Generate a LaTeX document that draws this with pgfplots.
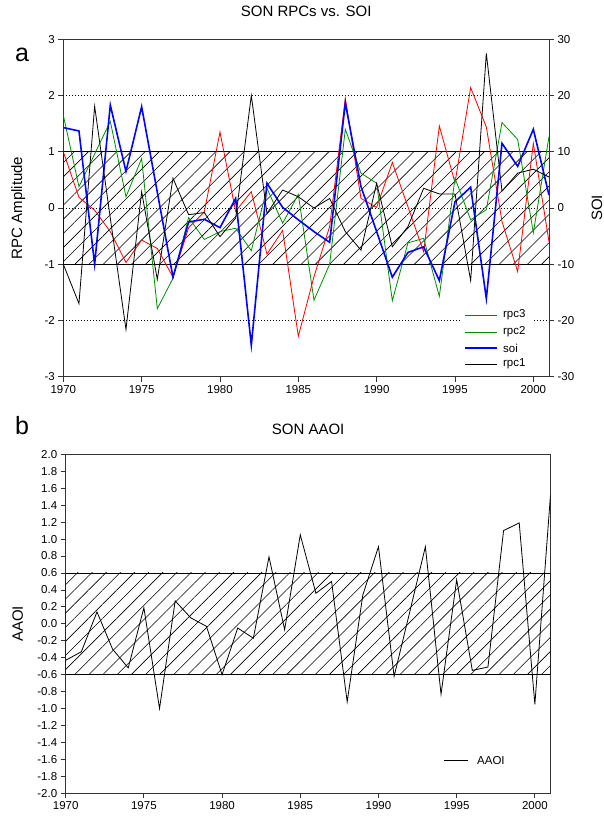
\documentclass[border=0pt]{standalone}
\usepackage{fontspec}
\setmainfont{Liberation Sans}
\usepackage{pgfplots}
\usepackage{pgfplotstable}
\pgfplotsset{compat=1.18}
\usetikzlibrary{patterns.meta}

\pgfplotstableread{
year rpc1 rpc2 rpc3 soi aaoi
1970 -1.00  1.65  1.00  14.3 -0.43
1971 -1.70  0.38  0.19  13.7 -0.33
1972  1.81  0.96 -0.04 -10.0  0.14
1973 -0.18  1.54 -0.42  18.3 -0.30
1974 -2.16  0.20 -0.97   6.5 -0.52
1975  0.29  0.88 -0.57  18.0  0.19
1976 -1.27 -1.79 -0.72   2.8 -1.00
1977  0.53 -1.25 -1.23 -12.3  0.27
1978 -0.12 -0.17 -0.35  -2.5  0.07
1979 -0.08 -0.56 -0.07  -2.0 -0.03
1980 -0.51 -0.42  1.35  -3.5 -0.60
1981 -0.18 -0.36 -0.06   1.7 -0.05
1982  2.00 -0.76  0.29 -24.4 -0.17
1983 -0.10  0.35 -0.82   4.4  0.79
1984  0.32 -0.27 -0.40   0.1 -0.07
1985  0.20  0.24 -2.28  -2.1  1.05
1986  0.00 -1.64 -1.22  -4.2  0.36
1987  0.17 -1.00 -0.33  -6.1  0.50
1988 -0.42  1.40  1.95  18.7 -0.92
1989 -0.75  0.62  0.17   3.8  0.34
1990  0.44  0.44  0.01  -4.2  0.91
1991 -0.69 -1.65  0.81 -12.3 -0.62
1992 -0.33 -0.62  0.02  -7.9  0.14
1993  0.35 -0.54 -0.78  -6.9  0.91
1994  0.25 -1.57  1.46 -12.9 -0.83
1995  0.25  0.53  0.45   1.1  0.52
1996 -1.29 -0.21  2.14   3.7 -0.55
1997  2.75 -0.03  1.44 -16.1 -0.51
1998  0.30  1.52 -0.24  11.5  1.10
1999  0.62  1.22 -1.13   7.4  1.19
2000  0.69 -0.44  1.15  14.0 -0.95
2001  0.55  1.27 -0.60   2.3  1.52
}\data

\definecolor{rpcgreen}{RGB}{0,140,0}

\tikzset{key/.style={anchor=west, font=\fontsize{11.5}{13}\selectfont, inner sep=0pt}}

\pgfplotsset{
  base/.style={
    scale only axis,
    xmin=1970, xmax=2001,
    tick align=outside,
    major tick length=5pt,
    axis line style={black!80, line width=0.8pt},
    every tick/.style={black!80, line width=0.8pt},
    tick label style={font=\fontsize{11.5}{13}\selectfont},
    /pgf/number format/assume math mode=true,
    x tick label style={/pgf/number format/1000 sep={}},
    title style={font=\fontsize{15}{18}\selectfont},
  },
  band/.style={forget plot, draw=black, line width=0.8pt,
    pattern={Lines[angle=45, distance=10pt, line width=0.6pt]}},
  gridl/.style={forget plot, draw=black, line width=0.8pt, dash pattern=on 1pt off 2pt},
  leftlabel/.style={every axis y label/.style={at={(rel axis cs:0,0.5)},
    rotate=90, anchor=center, yshift=#1, font=\fontsize{15}{18}\selectfont}},
}

\begin{document}
\begin{tikzpicture}
\useasboundingbox (0pt,0pt) rectangle (604pt,820pt);

% panel a, left axis; SOI is drawn against the right scale (SOI/10)
\begin{axis}[base,
  at={(63.3pt,443.3pt)}, anchor=south west,
  width=485.7pt, height=337.4pt,
  ymin=-3, ymax=3, ytick={-3,-2,...,3},
  xtick={1970,1975,...,2000},
  xtick pos=lower, ytick pos=left,
  ylabel={RPC Amplitude}, leftlabel=45pt,
  title={SON RPCs vs. SOI},
  title style={at={(rel axis cs:0.5,1)}, anchor=base, yshift=17pt},
]
\addplot[band] coordinates {(1970,-1) (2001,-1) (2001,1) (1970,1)} -- cycle;
\addplot[gridl] coordinates {(1970,2) (2001,2)};
\addplot[gridl] coordinates {(1970,0) (2001,0)};
\addplot[gridl] coordinates {(1970,-2) (2001,-2)};
% legend box (white, no frame)
\addplot[forget plot, fill=white, draw=none]
  coordinates {(1995.4,-1.74) (1999.9,-1.74) (1999.9,-2.93) (1995.4,-2.93)} -- cycle;

\addplot[red, line width=0.8pt] table[x=year, y=rpc3] {\data};
\addplot[rpcgreen, line width=0.8pt] table[x=year, y=rpc2] {\data};
\addplot[blue, line width=1.6pt] table[x=year, y expr=\thisrow{soi}/10] {\data};
\addplot[black, line width=0.8pt] table[x=year, y=rpc1] {\data};

% legend keys
\addplot[forget plot, red, line width=0.8pt] coordinates {(1995.64,-1.903) (1997.68,-1.903)};
\addplot[forget plot, rpcgreen, line width=0.8pt] coordinates {(1995.64,-2.205) (1997.68,-2.205)};
\addplot[forget plot, blue, line width=1.6pt] coordinates {(1995.64,-2.49) (1997.68,-2.49)};
\addplot[forget plot, black, line width=0.8pt] coordinates {(1995.64,-2.774) (1997.68,-2.774)};
\node[key] at (axis cs:1998.06,-1.903) {rpc3};
\node[key] at (axis cs:1998.06,-2.205) {rpc2};
\node[key] at (axis cs:1998.06,-2.49) {soi};
\node[key] at (axis cs:1998.06,-2.774) {rpc1};
\end{axis}

% panel a, SOI scale on the right
\begin{axis}[base,
  at={(63.3pt,443.3pt)}, anchor=south west,
  width=485.7pt, height=337.4pt,
  ymin=-30, ymax=30, ytick={-30,-20,...,30},
  axis y line*=right, axis x line=none,
  ylabel={SOI},
  every axis y label/.style={at={(rel axis cs:1,0.5)}, rotate=90,
    anchor=center, yshift=-48pt, font=\fontsize{15}{18}\selectfont},
]
\addplot[draw=none, forget plot] coordinates {(1970,0) (2001,0)};
\end{axis}

% panel b
\begin{axis}[base,
  at={(65.7pt,26.7pt)}, anchor=south west,
  width=484.8pt, height=339pt,
  ymin=-2, ymax=2,
  ytick={-2,-1.8,-1.6,-1.4,-1.2,-1,-0.8,-0.6,-0.4,-0.2,0,0.2,0.4,0.6,0.8,1,1.2,1.4,1.6,1.8,2},
  y tick label style={/pgf/number format/.cd, fixed, fixed zerofill, precision=1},
  xtick={1970,1975,...,2000},
  xtick pos=lower, ytick pos=left,
  ylabel={AAOI}, leftlabel=48pt,
  title={SON AAOI},
  title style={at={(rel axis cs:0.5,1)}, anchor=base, yshift=14pt},
]
\addplot[band] coordinates {(1970,-0.6) (2001,-0.6) (2001,0.6) (1970,0.6)} -- cycle;
\addplot[black, line width=0.8pt] table[x=year, y=aaoi] {\data};
% legend key
\addplot[forget plot, black, line width=0.8pt] coordinates {(1994.2,-1.615) (1995.73,-1.615)};
\node[key] at (axis cs:1996.3,-1.615) {AAOI};
\end{axis}

\node[font=\fontsize{25}{30}\selectfont] at (22pt,765pt) {a};
\node[font=\fontsize{25}{30}\selectfont] at (22pt,394pt) {b};
\end{tikzpicture}
\end{document}
